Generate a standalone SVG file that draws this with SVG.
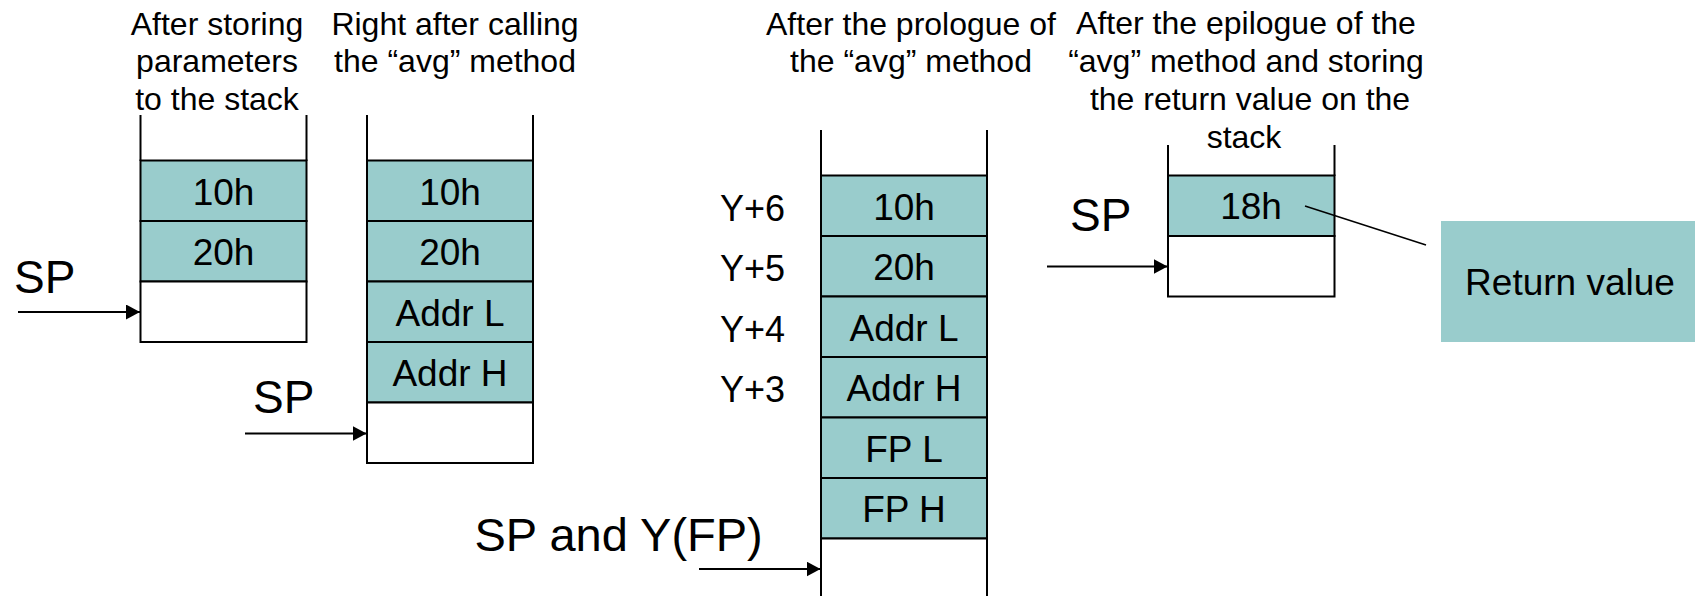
<svg xmlns="http://www.w3.org/2000/svg" width="1695" height="596" viewBox="0 0 1695 596">
  <defs>
    <style>
      text { font-family: "Liberation Sans", Arial, Helvetica, sans-serif; fill: #000; }
      .title { font-size: 32px; text-anchor: middle; }
      .cell-label { font-size: 37px; text-anchor: middle; }
      .ptr { font-size: 46px; }
      .offset { font-size: 36px; }
      .wall { stroke: #000; stroke-width: 2; fill: none; }
      .slot { fill: #99cccc; stroke: #000; stroke-width: 2; }
      .empty { fill: #fff; stroke: #000; stroke-width: 2; }
      .arrow { stroke: #000; stroke-width: 2; fill: none; marker-end: url(#head); }
      .leader { stroke: #000; stroke-width: 1.5; fill: none; }
    </style>
    <marker id="head" markerUnits="userSpaceOnUse" markerWidth="16" markerHeight="16" refX="14" refY="7.5" orient="auto">
      <path d="M0,0 L14,7.5 L0,15 Z" fill="#000"/>
    </marker>
  </defs>

  <!-- Stack 1: after the parameters are pushed -->
  <g id="stack1">
    <text class="title" x="217" y="35">After storing</text>
    <text class="title" x="217" y="72">parameters</text>
    <text class="title" x="217" y="110">to the stack</text>
    <line class="wall" x1="140.5" y1="115" x2="140.5" y2="161"/>
    <line class="wall" x1="306.5" y1="115" x2="306.5" y2="161"/>
    <rect class="slot" x="140.5" y="160.5" width="166" height="60.5"/>
    <rect class="slot" x="140.5" y="221" width="166" height="60.5"/>
    <rect class="empty" x="140.5" y="281.5" width="166" height="60.5"/>
    <text class="cell-label" x="223.5" y="204.5">10h</text>
    <text class="cell-label" x="223.5" y="265">20h</text>
  </g>
  <g id="sp1">
    <text class="ptr" x="14" y="292.5">SP</text>
  </g>

  <!-- Stack 2: right after the call -->
  <g id="stack2">
    <text class="title" x="455" y="35">Right after calling</text>
    <text class="title" x="455" y="72">the “avg” method</text>
    <line class="wall" x1="367" y1="115" x2="367" y2="161"/>
    <line class="wall" x1="533" y1="115" x2="533" y2="161"/>
    <rect class="slot" x="367" y="160.5" width="166" height="60.5"/>
    <rect class="slot" x="367" y="221" width="166" height="60.5"/>
    <rect class="slot" x="367" y="281.5" width="166" height="60.5"/>
    <rect class="slot" x="367" y="342" width="166" height="60.5"/>
    <rect class="empty" x="367" y="402.5" width="166" height="60.5"/>
    <text class="cell-label" x="450" y="204.5">10h</text>
    <text class="cell-label" x="450" y="265">20h</text>
    <text class="cell-label" x="450" y="325.5">Addr L</text>
    <text class="cell-label" x="450" y="386">Addr H</text>
  </g>
  <g id="sp2">
    <text class="ptr" x="253" y="413">SP</text>
  </g>

  <!-- Stack 3: after the prologue -->
  <g id="stack3">
    <text class="title" x="911" y="35">After the prologue of</text>
    <text class="title" x="911" y="72">the “avg” method</text>
    <line class="wall" x1="821" y1="130" x2="821" y2="176"/>
    <line class="wall" x1="987" y1="130" x2="987" y2="176"/>
    <rect class="slot" x="821" y="175.5" width="166" height="60.5"/>
    <rect class="slot" x="821" y="236" width="166" height="60.5"/>
    <rect class="slot" x="821" y="296.5" width="166" height="60.5"/>
    <rect class="slot" x="821" y="357" width="166" height="60.5"/>
    <rect class="slot" x="821" y="417.5" width="166" height="60.5"/>
    <rect class="slot" x="821" y="478" width="166" height="60.5"/>
    <rect class="empty" x="821" y="538.5" width="166" height="62"/>
    <text class="cell-label" x="904" y="219.5">10h</text>
    <text class="cell-label" x="904" y="280">20h</text>
    <text class="cell-label" x="904" y="340.5">Addr L</text>
    <text class="cell-label" x="904" y="401">Addr H</text>
    <text class="cell-label" x="904" y="461.5">FP L</text>
    <text class="cell-label" x="904" y="522">FP H</text>
  </g>
  <g id="offsets">
    <text class="offset" x="720" y="220.5">Y+6</text>
    <text class="offset" x="720" y="281">Y+5</text>
    <text class="offset" x="720" y="341.5">Y+4</text>
    <text class="offset" x="720" y="402">Y+3</text>
  </g>
  <g id="sp3">
    <text class="ptr" x="474.5" y="550.5" style="font-size:47px">SP and Y(FP)</text>
  </g>

  <!-- Stack 4: after the epilogue, holding the return value -->
  <g id="stack4">
    <text class="title" x="1246" y="34">After the epilogue of the</text>
    <text class="title" x="1246" y="72">“avg” method and storing</text>
    <text class="title" x="1250" y="110">the return value on the</text>
    <text class="title" x="1244" y="148">stack</text>
    <line class="wall" x1="1168" y1="145" x2="1168" y2="176"/>
    <line class="wall" x1="1334.5" y1="145" x2="1334.5" y2="176"/>
    <rect class="slot" x="1168" y="175.5" width="166.5" height="60.5"/>
    <rect class="empty" x="1168" y="236" width="166.5" height="60.5"/>
    <text class="cell-label" x="1251" y="219">18h</text>
  </g>
  <g id="sp4">
    <text class="ptr" x="1070" y="230.5">SP</text>
  </g>

  <g id="return-value">
    <rect x="1441" y="221" width="260" height="121" fill="#99cccc"/>
    <text class="cell-label" x="1570" y="295">Return value</text>
  </g>

  <!-- Pointer arrows and the callout leader -->
  <g id="connectors">
    <line class="arrow" x1="18" y1="312" x2="140" y2="312"/>
    <line class="arrow" x1="245" y1="433.5" x2="366.5" y2="433.5"/>
    <line class="arrow" x1="699" y1="569" x2="820.5" y2="569"/>
    <line class="arrow" x1="1047" y1="266.5" x2="1167.5" y2="266.5"/>
    <line class="leader" x1="1305" y1="206" x2="1426" y2="245"/>
  </g>
</svg>
